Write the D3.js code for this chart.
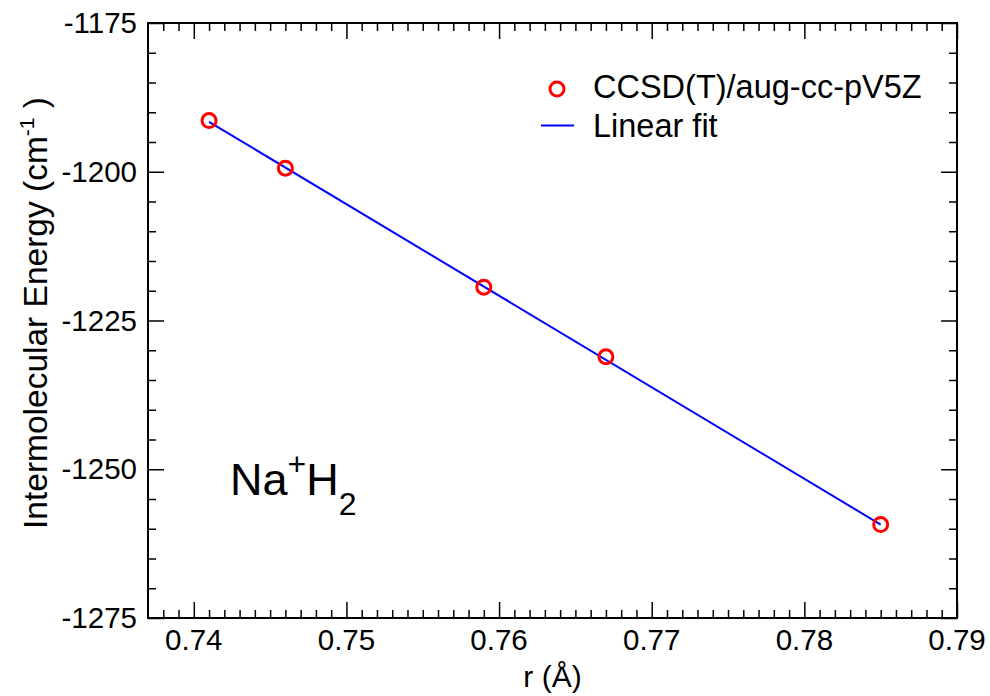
<!DOCTYPE html>
<html>
<head>
<meta charset="utf-8">
<script src="https://cdn.jsdelivr.net/npm/d3@7"></script>
<style>
  body { margin: 0; background: #fff; }
  text { font-family: "Liberation Sans", Arial, sans-serif; fill: #000; }
</style>
</head>
<body>
<svg id="chart"></svg>
<script>
// Data
const rValues = [0.741, 0.746, 0.759, 0.767, 0.785];
const energyValues = [-1191.4, -1199.4, -1219.4, -1231.1, -1259.3];
// Fit line end points
const fitR = [0.741, 0.785];
const fitEnergy = [-1191.6, -1259.3];
const xTicks = [0.74, 0.75, 0.76, 0.77, 0.78, 0.79];
const yTicks = [-1175, -1200, -1225, -1250, -1275];

// Set up dimensions and margins
const W = 990, H = 696;
const margin = { top: 23, right: 33, bottom: 78, left: 148 };
const width = W - margin.left - margin.right;
const height = H - margin.top - margin.bottom;

const svg = d3.select("#chart")
    .attr("width", W)
    .attr("height", H);

const g = svg.append("g")
    .attr("transform", `translate(${margin.left},${margin.top})`);

// Scales
const x = d3.scaleLinear().domain([0.737, 0.79]).range([0, width]);
const y = d3.scaleLinear().domain([-1275, -1175]).range([height, 0]);

const xMinor = d3.range(738, 790).map(d => d / 1000).filter(d => !xTicks.some(t => Math.abs(t - d) < 1e-9));
const yMinor = d3.range(-1270, -1175, 5).filter(d => d % 25 !== 0);

// Axes: ticks point inward on all four sides
function axisGroup(axis, transform) {
    const a = g.append("g").attr("transform", transform).call(axis);
    a.select(".domain").remove();
    a.selectAll("line").attr("stroke", "#000").attr("stroke-width", 1.5);
    return a;
}

const fmtX = d3.format(".2f");
const fmtY = d => String(d); // plain hyphen minus, as in the original

// bottom
axisGroup(d3.axisTop(x).tickValues(xTicks).tickSize(16).tickFormat(""), `translate(0,${height})`);
axisGroup(d3.axisTop(x).tickValues(xMinor).tickSize(8).tickFormat(""), `translate(0,${height})`);
// top
axisGroup(d3.axisBottom(x).tickValues(xTicks).tickSize(16).tickFormat(""), "translate(0,0)");
axisGroup(d3.axisBottom(x).tickValues(xMinor).tickSize(8).tickFormat(""), "translate(0,0)");
// left
axisGroup(d3.axisRight(y).tickValues(yTicks).tickSize(16).tickFormat(""), "translate(0,0)");
axisGroup(d3.axisRight(y).tickValues(yMinor).tickSize(8).tickFormat(""), "translate(0,0)");
// right
axisGroup(d3.axisLeft(y).tickValues(yTicks).tickSize(16).tickFormat(""), `translate(${width},0)`);
axisGroup(d3.axisLeft(y).tickValues(yMinor).tickSize(8).tickFormat(""), `translate(${width},0)`);

// tick labels
g.selectAll(".xlab").data(xTicks).enter().append("text")
    .attr("x", d => x(d))
    .attr("y", height + 32)
    .attr("text-anchor", "middle")
    .style("font-size", "29.5px")
    .text(fmtX);

g.selectAll(".ylab").data(yTicks).enter().append("text")
    .attr("x", -11)
    .attr("y", d => y(d) + 10)
    .attr("text-anchor", "end")
    .style("font-size", "29.5px")
    .text(fmtY);

// frame
g.append("rect")
    .attr("width", width)
    .attr("height", height)
    .attr("fill", "none")
    .attr("stroke", "#000")
    .attr("stroke-width", 2);

// axis titles
g.append("text")
    .attr("x", x(0.7635))
    .attr("y", height + 69)
    .attr("text-anchor", "middle")
    .style("font-size", "30px")
    .text("r (Å)");

const yTitle = g.append("text")
    .attr("transform", `translate(${-101},${290}) rotate(-90)`)
    .attr("text-anchor", "middle")
    .style("font-size", "33.5px");
yTitle.append("tspan").text("Intermolecular Energy (cm");
yTitle.append("tspan").attr("dy", -13).style("font-size", "21px").text("-1");
yTitle.append("tspan").attr("dy", 13).text(" )");

// linear fit
const line = d3.line().x(d => x(d[0])).y(d => y(d[1]));
g.append("path")
    .datum(d3.zip(fitR, fitEnergy))
    .attr("d", line)
    .attr("fill", "none")
    .attr("stroke", "#0000ff")
    .attr("stroke-width", 2);

// data points
g.selectAll(".pt").data(d3.zip(rValues, energyValues)).enter().append("circle")
    .attr("cx", d => x(d[0]))
    .attr("cy", d => y(d[1]))
    .attr("r", 7)
    .attr("fill", "none")
    .attr("stroke", "#ff0000")
    .attr("stroke-width", 3);

// legend
const legend = svg.append("g");
legend.append("circle")
    .attr("cx", 557).attr("cy", 89).attr("r", 7)
    .attr("fill", "none").attr("stroke", "#ff0000").attr("stroke-width", 3);
legend.append("text")
    .attr("x", 593).attr("y", 98)
    .style("font-size", "32.5px")
    .text("CCSD(T)/aug-cc-pV5Z");
legend.append("line")
    .attr("x1", 541).attr("x2", 574).attr("y1", 125.5).attr("y2", 125.5)
    .attr("stroke", "#0000ff").attr("stroke-width", 2);
legend.append("text")
    .attr("x", 593).attr("y", 137)
    .style("font-size", "32.5px")
    .text("Linear fit");

// molecule label
const mol = svg.append("text")
    .attr("x", 230).attr("y", 495)
    .style("font-size", "45px");
mol.append("tspan").text("Na");
mol.append("tspan").attr("dy", -20).style("font-size", "32px").text("+");
mol.append("tspan").attr("dy", 20).text("H");
mol.append("tspan").attr("dy", 20).style("font-size", "32px").text("2");
</script>
</body>
</html>
